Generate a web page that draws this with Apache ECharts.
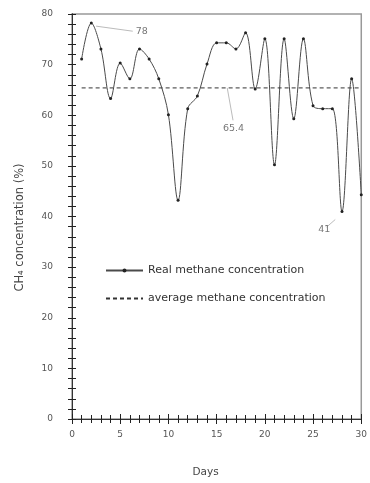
<!DOCTYPE html>
<html><head><meta charset="utf-8">
<script src="https://cdn.jsdelivr.net/npm/echarts@6/dist/echarts.min.js"></script>
<style>html,body{margin:0;padding:0;background:#fff}#c{width:370px;height:483px}</style>
</head><body><div id="c"></div>
<script>
const days = [1,2,3,4,5,6,7,8,9,10,11,12,13,14,15,16,17,18,19,20,21,22,23,24,25,26,27,28,29,30];
const methane = [71.1,78.2,73.1,63.3,70.3,67.2,73.1,71.1,67.2,60.1,43.2,61.3,63.8,70.1,74.3,74.3,73.1,76.3,65.2,75.1,50.2,75.1,59.3,75.1,61.9,61.3,61.3,41.0,67.2,44.3];
const averageValue = 65.4;
const avgDays = [1, 30];
const xTicks = [0,5,10,15,20,25,30];
const yTicks = [0,10,20,30,40,50,60,70,80];
const seriesNames = ['Real methane concentration', 'average methane concentration'];

const FONT = 'DejaVu Sans';
const chart = echarts.init(document.getElementById('c'));
const realData = days.map((d,i)=>[d, methane[i]]);
const avgData = avgDays.map(d=>[d, averageValue]);
const leaderStyle = {color:'#aaa', width:0.8, type:'solid'};
const tickStyle = {color:'#222', width:1};
function mkAxis(idx, inside, labels){
  return {
    type:'value', min:0, max:80, interval:10, position:'left',
    axisLine:{show:true, lineStyle:{color:'#333', width:1}},
    axisTick:{show:true, inside:inside, length:4, lineStyle:tickStyle},
    minorTick:{show:true, splitNumber:5, length:4, lineStyle:tickStyle},
    axisLabel:{show:labels, margin:19, fontFamily:FONT, fontSize:9, color:'#555'},
    splitLine:{show:false}, minorSplitLine:{show:false},
    name: labels ? 'CH₄ concentration (%)' : '',
    nameLocation:'middle', nameGap:46, nameRotate:90,
    nameTextStyle:{fontFamily:FONT, fontSize:11.5, color:'#444', padding:[0,22,0,0]}
  };
}
function mkXAxis(idx, inside, labels){
  return {
    type:'value', min:0, max:30, interval:5, position:'bottom',
    axisLine:{show:true, onZero:false, lineStyle:{color:'#333', width:1}},
    axisTick:{show:true, inside:inside, length:5, lineStyle:tickStyle},
    minorTick:{show:true, splitNumber:5, length:4, lineStyle:tickStyle},
    axisLabel:{show:labels, margin:11, fontFamily:FONT, fontSize:9, color:'#555'},
    splitLine:{show:false}, minorSplitLine:{show:false},
    name: labels ? 'Days' : '',
    nameLocation:'middle', nameGap:48,
    nameTextStyle:{fontFamily:FONT, fontSize:10.5, color:'#444', padding:[0,22,0,0]}
  };
}
chart.setOption({
  animation:false,
  grid:{left:72, right:7, top:14, bottom:63, show:true, borderColor:'#999', borderWidth:1.5},
  xAxis:[mkXAxis(0,false,true), mkXAxis(1,true,false)],
  yAxis:[mkAxis(0,false,true), mkAxis(1,true,false)],
  legend:{
    orient:'vertical', left:105, top:265, padding:0, itemWidth:37, itemHeight:5, itemGap:17,
    textStyle:{fontFamily:FONT, fontSize:11, color:'#333'},
    data:[seriesNames[0], {name:seriesNames[1], itemStyle:{opacity:0}}]
  },
  series:[
    {
      name:seriesNames[0], type:'line', data:realData, smooth:0.35,
      xAxisIndex:0, yAxisIndex:0,
      symbol:'circle', symbolSize:3,
      itemStyle:{color:'#222'}, lineStyle:{color:'#4a4a4a', width:1},
      markLine:{
        silent:true, symbol:['none','none'], lineStyle:leaderStyle,
        label:{show:true, position:'end', fontFamily:FONT, fontSize:9.5, color:'#777', distance:3},
        data:[
          [{coord:[days[1]+0.5, methane[1]-0.6]},{coord:[days[1]+4.3, methane[1]-1.6], label:{formatter:String(methane[1].toFixed(0))}}],
          [{coord:[16.1, averageValue]},{coord:[16.7, averageValue-6.4], label:{formatter:String(averageValue)}}],
          [{coord:[days[27]-0.7, methane[27]-1.6]},{coord:[days[27]-1.6, methane[27]-3.1], label:{formatter:String(methane[27].toFixed(0))}}]
        ]
      }
    },
    {
      name:seriesNames[1], type:'line', data:avgData, symbol:'none',
      xAxisIndex:0, yAxisIndex:0,
      lineStyle:{color:'#333', width:1, type:[4,3]}, itemStyle:{color:'#333'}
    }
  ]
});
</script></body></html>
